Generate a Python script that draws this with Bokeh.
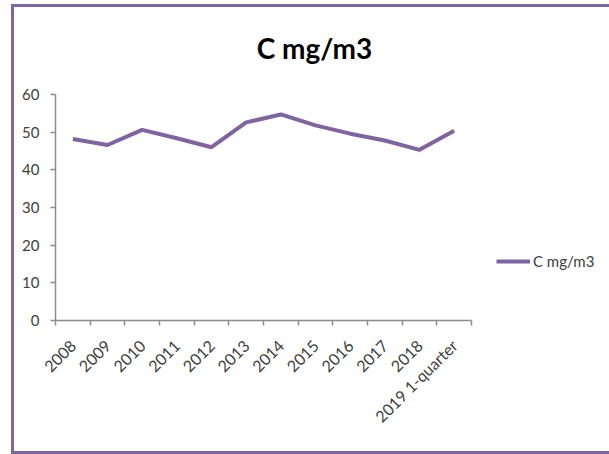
import math
from bokeh.plotting import figure
from bokeh.models import (Range1d, LinearAxis, FixedTicker, Legend, LegendItem,
                          Label, ColumnDataSource)
from bokeh.embed import file_html
from bokeh.resources import INLINE

categories = ["2008", "2009", "2010", "2011", "2012", "2013", "2014",
              "2015", "2016", "2017", "2018", "2019 1-quarter"]
values = [48.2, 46.6, 50.6, 48.4, 46.0, 52.6, 54.7, 51.8, 49.6, 47.8, 45.3, 50.4]
series_name = "C mg/m3"
y_ticks = [0, 10, 20, 30, 40, 50, 60]
y_max = 60

PURPLE = "#8064A2"
GRID = "#8C8C8C"
TEXT = "#404040"
FONT = "Lato"

# layout constants (pixels)
CANVAS_W, CANVAS_H = 598, 450
BORDER = 3
LEFT, BOTTOM = 41, 137
PLOT_W, PLOT_H = 416, 226          # pixel size of the data area

n = len(categories)
frame_w = CANVAS_W - LEFT
frame_h = CANVAS_H - BOTTOM
x_end = n * frame_w / PLOT_W
y_end = y_max * frame_h / PLOT_H

xs = [i + 0.5 for i in range(n)]
src = ColumnDataSource(dict(x=xs, y=values))

p = figure(width=CANVAS_W, height=CANVAS_H, output_backend="svg",
           toolbar_location=None,
           x_range=Range1d(0, x_end), y_range=Range1d(0, y_end),
           x_axis_type=None, y_axis_type=None,
           min_border_left=LEFT, min_border_right=0,
           min_border_top=0, min_border_bottom=BOTTOM)
p.outline_line_color = None
p.background_fill_color = "white"
p.border_fill_color = "white"
p.styles = {
    "border-left": f"{BORDER}px solid {PURPLE}",
    "border-top": f"{BORDER}px solid {PURPLE}",
    "border-bottom": f"{BORDER}px solid {PURPLE}",
    "margin-left": "11px",
    "margin-top": "4px",
}

# y axis
yaxis = LinearAxis(ticker=FixedTicker(ticks=y_ticks), bounds=(0, y_max))
yaxis.axis_line_color = GRID
yaxis.axis_line_width = 1.5
yaxis.major_tick_line_color = GRID
yaxis.major_tick_line_width = 1.5
yaxis.major_tick_in = 0
yaxis.major_tick_out = 5
yaxis.minor_tick_line_color = None
yaxis.major_label_text_font = FONT
yaxis.major_label_text_font_size = "15px"
yaxis.major_label_text_color = TEXT
yaxis.major_label_standoff = 11
p.add_layout(yaxis, "left")

# x axis: tick marks between categories
xaxis_ticks = LinearAxis(ticker=FixedTicker(ticks=list(range(n + 1))), bounds=(0, n))
xaxis_ticks.axis_line_color = GRID
xaxis_ticks.axis_line_width = 1.5
xaxis_ticks.major_tick_line_color = GRID
xaxis_ticks.major_tick_line_width = 1.5
xaxis_ticks.major_tick_in = 0
xaxis_ticks.major_tick_out = 5
xaxis_ticks.minor_tick_line_color = None
xaxis_ticks.major_label_text_font_size = "0px"
xaxis_ticks.major_label_standoff = 0
xaxis_ticks.major_label_overrides = {i: "" for i in range(n + 1)}
p.add_layout(xaxis_ticks, "below")

# x axis: category labels at centres
xaxis_labels = LinearAxis(ticker=FixedTicker(ticks=xs), bounds=(0, n))
xaxis_labels.axis_line_color = None
xaxis_labels.major_tick_line_color = None
xaxis_labels.minor_tick_line_color = None
xaxis_labels.major_tick_in = 0
xaxis_labels.major_tick_out = 0
xaxis_labels.major_label_overrides = {x: c for x, c in zip(xs, categories)}
xaxis_labels.major_label_orientation = math.pi / 4
xaxis_labels.major_label_text_font = FONT
xaxis_labels.major_label_text_font_size = "16px"
xaxis_labels.major_label_text_color = TEXT
xaxis_labels.major_label_standoff = 17
p.add_layout(xaxis_labels, "below")

p.ygrid.ticker = FixedTicker(ticks=y_ticks)
p.ygrid.grid_line_color = GRID
p.ygrid.grid_line_width = 1.5
p.ygrid.cross_bounds = (0, n)
p.xgrid.visible = False

r = p.line("x", "y", source=src, line_color=PURPLE, line_width=4, line_join="round")

legend = Legend(items=[LegendItem(label=series_name, renderers=[r])],
                location=(441, 49), padding=0, margin=0,
                border_line_color=None, background_fill_alpha=0,
                glyph_width=34, glyph_height=20,
                label_text_font=FONT, label_text_font_size="15px",
                label_text_color=TEXT, label_standoff=3)
p.add_layout(legend, "center")

title = Label(x=259, y=273, x_units="screen", y_units="screen",
              text=series_name, text_align="center", text_baseline="alphabetic",
              text_font=FONT, text_font_size="28px", text_font_style="bold",
              text_color="black")
p.add_layout(title)

open("out.html", "w").write(file_html(p, INLINE))
